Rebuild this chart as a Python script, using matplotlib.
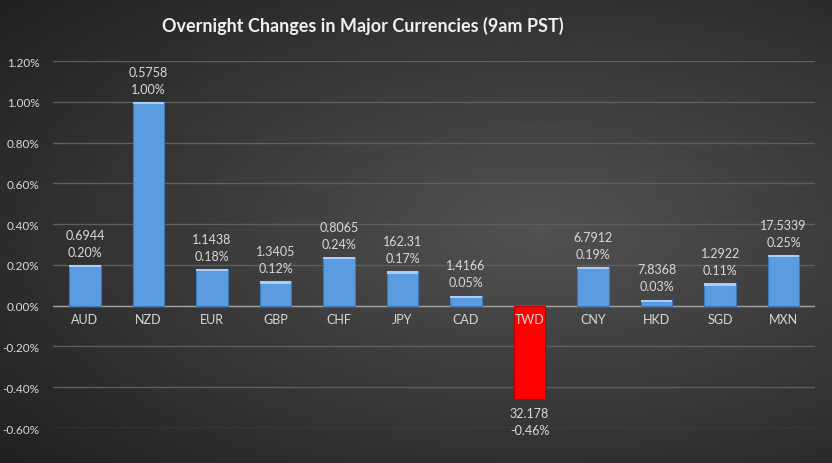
import numpy as np
import matplotlib
matplotlib.use('Agg')
import matplotlib.pyplot as plt
from matplotlib.ticker import FuncFormatter

# data
currencies = ['AUD', 'NZD', 'EUR', 'GBP', 'CHF', 'JPY', 'CAD', 'TWD', 'CNY', 'HKD', 'SGD', 'MXN']
changes = [0.20, 1.00, 0.18, 0.12, 0.24, 0.17, 0.05, -0.46, 0.19, 0.03, 0.11, 0.25]
rates = ['0.6944', '0.5758', '1.1438', '1.3405', '0.8065', '162.31', '1.4166',
         '32.178', '6.7912', '7.8368', '1.2922', '17.5339']

plt.rcParams['font.family'] = ['Lato', 'DejaVu Sans']
txt = '#d9d9d9'

fig = plt.figure(figsize=(8.32, 4.64), dpi=100)

# radial-ish dark background
bg = fig.add_axes([0, 0, 1, 1], zorder=0)
yy, xx = np.mgrid[0:1:200j, 0:1:300j]
r = np.sqrt(((xx - 0.65) / 0.85) ** 2 + ((yy - 0.5) / 0.75) ** 2)
shade = np.clip(0.32 - 0.19 * r, 0.12, 0.32)
bg.imshow(shade, cmap='gray', vmin=0, vmax=1, aspect='auto', extent=[0, 1, 0, 1])
bg.axis('off')

ax = fig.add_axes([0.064, 0.0754, 0.916, 0.7906], zorder=1)
ax.patch.set_alpha(0)
x = np.arange(len(currencies))
colors = ['#ff0000' if v < 0 else '#5b9be0' for v in changes]
edges = ['#c00000' if v < 0 else '#3f78b8' for v in changes]
ax.bar(x, changes, width=0.5, color=colors, edgecolor=edges, linewidth=0.8, zorder=3)
# top highlight strip (bevel look)
for i, v in enumerate(changes):
    if v > 0:
        h = min(0.012, v * 0.5)
        ax.bar(x[i], h, bottom=v - h, width=0.5, color='#a9cdf5', linewidth=0, zorder=4)

ax.set_ylim(-0.6, 1.2)
ax.set_xlim(-0.5, len(currencies) - 0.5)
ax.set_yticks(np.arange(-0.6, 1.21, 0.2))
ax.yaxis.set_major_formatter(FuncFormatter(lambda v, p: '%.2f%%' % v))
ax.grid(axis='y', color='#5e5e5e', linewidth=1, zorder=0)
ax.axhline(0, color='#a0a0a0', linewidth=1, zorder=2)
for s in ax.spines.values():
    s.set_visible(False)
ax.tick_params(axis='y', length=0, colors=txt, labelsize=8.5, pad=10)
ax.tick_params(axis='x', length=0)
ax.set_xticks(x)
ax.set_xticklabels([])
for i, c in enumerate(currencies):
    ax.text(x[i], -0.035, c, ha='center', va='top', color=txt, fontsize=9, zorder=5)

for i, v in enumerate(changes):
    lab = '%s\n%.2f%%' % (rates[i], v)
    if v >= 0:
        ax.text(x[i], v + 0.035, lab, ha='center', va='bottom', color=txt,
                fontsize=9, linespacing=1.5, zorder=5)
    else:
        ax.text(x[i], v - 0.035, lab, ha='center', va='top', color=txt,
                fontsize=9, linespacing=1.5, zorder=5)

fig.text(0.436, 0.945, 'Overnight Changes in Major Currencies (9am PST)', ha='center',
         va='center', color='#f0f0f0', fontsize=13, fontweight='bold')

fig.savefig('out.png', dpi=100)
